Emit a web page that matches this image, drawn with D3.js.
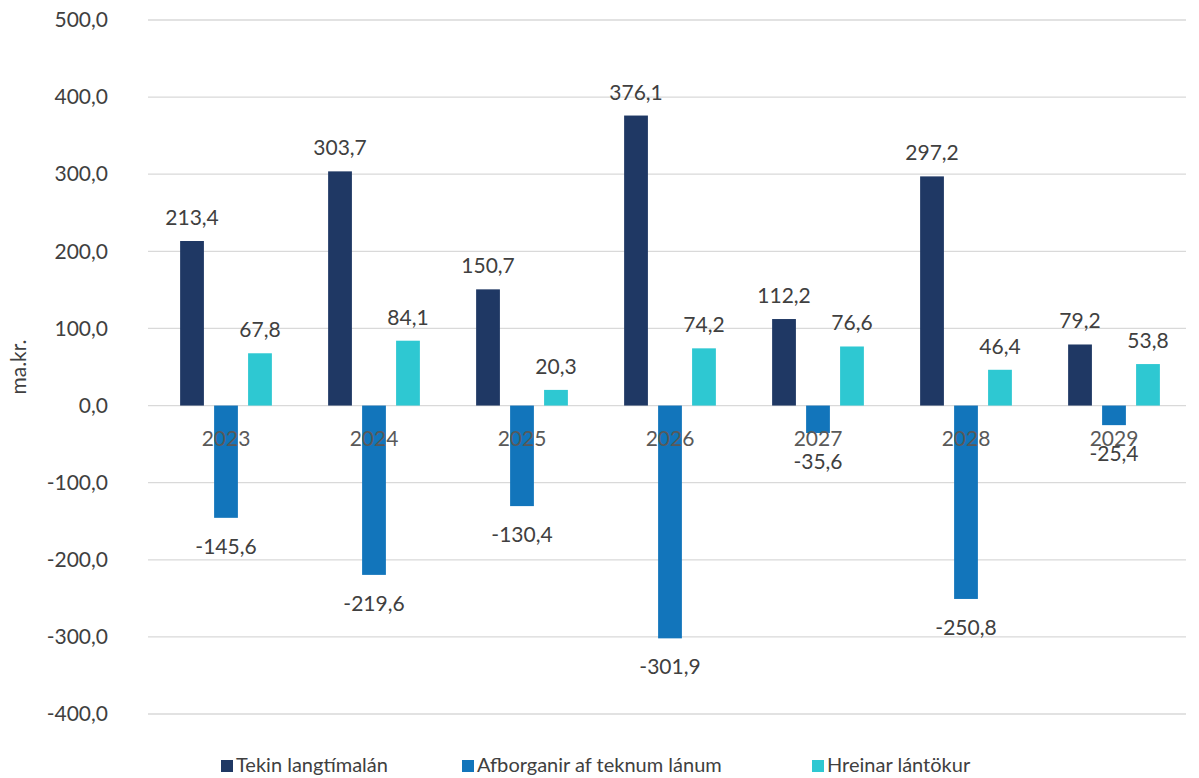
<!DOCTYPE html>
<html>
<head>
<meta charset="utf-8">
<script src="https://cdn.jsdelivr.net/npm/d3@7"></script>
<style>
  body { margin: 0; background: #fff; }
  svg { display: block; font-family: Lato, "Open Sans", sans-serif; }
</style>
</head>
<body>
<div id="chart"></div>
<script>
(function () {
'use strict';

// Categories (years) and series
const years = ["2023", "2024", "2025", "2026", "2027", "2028", "2029"];
const seriesNames = ["Tekin langtímalán", "Afborganir af teknum lánum", "Hreinar lántökur"];
const tekin = [213.4, 303.7, 150.7, 376.1, 112.2, 297.2, 79.2];
const afborganir = [-145.6, -219.6, -130.4, -301.9, -35.6, -250.8, -25.4];
const hreinar = [67.8, 84.1, 20.3, 74.2, 76.6, 46.4, 53.8];
const yTicks = [-400, -300, -200, -100, 0, 100, 200, 300, 400, 500];

const COLORS = ["#1f3864", "#1275bb", "#2ec8d2"];
const TEXT = "#404040";

const width = 1199, height = 778;
const plot = { left: 152, right: 1188, top: 20, bottom: 714 };

const svg = d3.select("#chart").append("svg")
  .attr("width", width).attr("height", height);

const x0 = d3.scaleBand().domain(years).range([plot.left, plot.right]).paddingInner(0.38).paddingOuter(0.19);
const x1 = d3.scaleBand().domain(d3.range(3)).range([0, x0.bandwidth()]).paddingInner(0.3);
const y = d3.scaleLinear().domain([-400, 500]).range([plot.bottom, plot.top]);

const fmt = v => d3.format(".1f")(v).replace(".", ",").replace("−", "-");

// grid
svg.append("g").selectAll("line").data(yTicks).join("line")
  .attr("x1", plot.left - 4).attr("x2", plot.right - 2)
  .attr("y1", d => y(d)).attr("y2", d => y(d))
  .attr("stroke", "#d9d9d9").attr("stroke-width", 1.3);

// y axis labels
const yAxis = svg.append("g").attr("transform", `translate(108,0)`)
  .call(d3.axisLeft(y).tickValues(yTicks).tickSize(0).tickPadding(0).tickFormat(fmt));
yAxis.select(".domain").remove();
yAxis.selectAll("text").attr("fill", TEXT).attr("font-size", 21).attr("font-family", "Lato, sans-serif");

svg.append("text")
  .attr("transform", `translate(26,${(plot.top + plot.bottom) / 2}) rotate(-90)`)
  .attr("text-anchor", "middle")
  .attr("fill", TEXT).attr("font-size", 21)
  .text("ma.kr.");

const rows = years.map((yr, i) => ({ yr, vals: [tekin[i], afborganir[i], hreinar[i]] }));

const groups = svg.append("g").selectAll("g").data(rows).join("g")
  .attr("transform", d => `translate(${x0(d.yr)},0)`);

groups.selectAll("rect").data(d => d.vals.map((v, k) => ({ v, k }))).join("rect")
  .attr("x", d => x1(d.k))
  .attr("width", x1.bandwidth())
  .attr("y", d => y(Math.max(0, d.v)))
  .attr("height", d => Math.abs(y(d.v) - y(0)))
  .attr("fill", d => COLORS[d.k]);

groups.selectAll("text.val").data(d => d.vals.map((v, k) => ({ v, k }))).join("text")
  .attr("class", "val")
  .attr("x", d => x1(d.k) + x1.bandwidth() / 2)
  .attr("y", d => d.v >= 0 ? y(d.v) - 16 : y(d.v) + 36)
  .attr("text-anchor", "middle")
  .attr("fill", TEXT).attr("font-size", 21)
  .text(d => fmt(d.v));

// year labels (drawn over the bars, as in the original)
svg.append("g").selectAll("text").data(years).join("text")
  .attr("x", d => x0(d) + x0.bandwidth() / 2)
  .attr("y", y(0) + 40)
  .attr("text-anchor", "middle")
  .attr("fill", "#595959").attr("font-size", 21)
  .text(d => d);

// legend
const legendX = [221, 462, 812];
const legend = svg.append("g").selectAll("g").data(seriesNames).join("g")
  .attr("transform", (d, i) => `translate(${legendX[i]},760)`);
legend.append("rect").attr("width", 12).attr("height", 12).attr("fill", (d, i) => COLORS[i]);
legend.append("text").attr("x", 15).attr("y", 12)
  .attr("fill", TEXT).attr("font-size", 20).text(d => d);
})();
</script>
</body>
</html>
